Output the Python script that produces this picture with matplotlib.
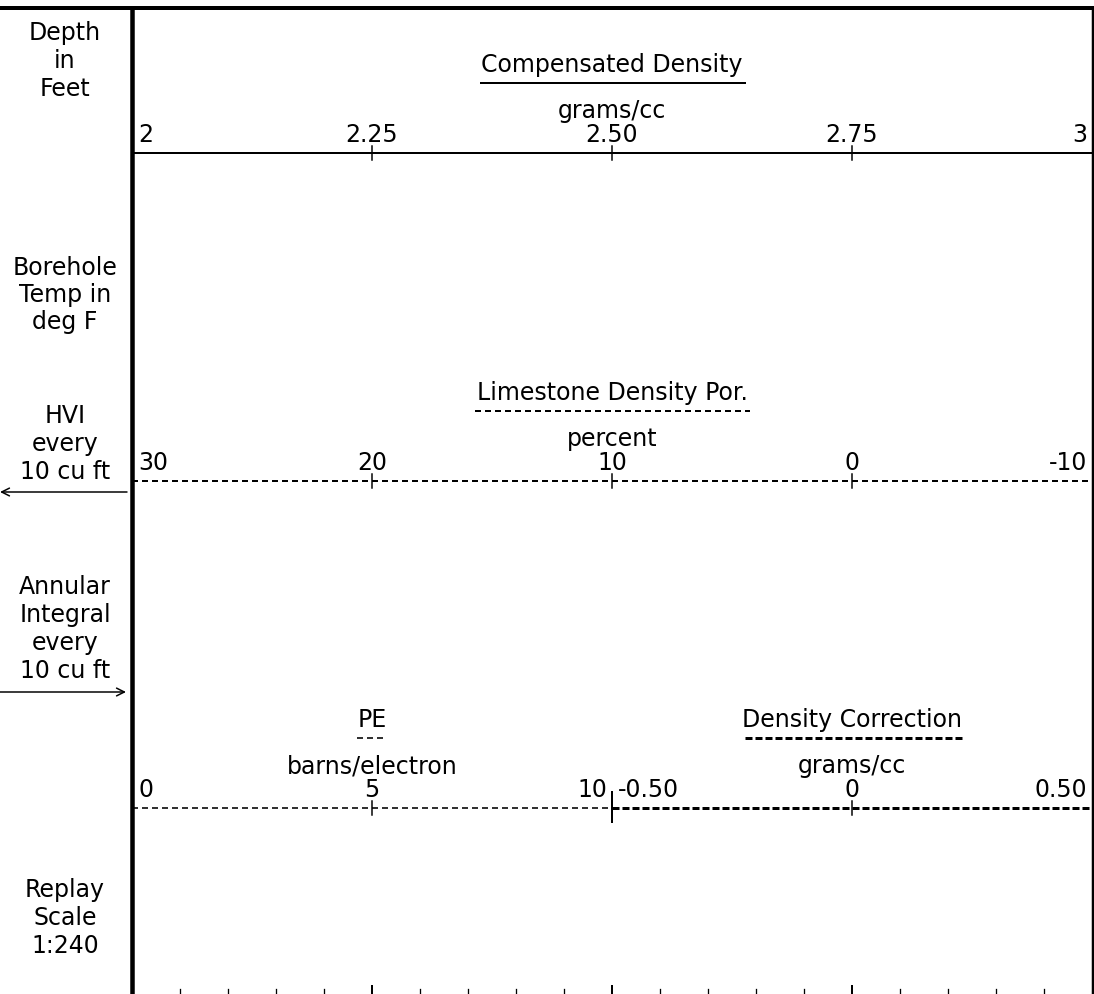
import matplotlib
matplotlib.use("Agg")
import matplotlib.pyplot as plt

plt.rcParams['font.family'] = ['DejaVu Sans']
plt.rcParams['lines.scale_dashes'] = False

W, H = 1094, 994
PX = 0.72  # points per pixel at dpi 100
FS = 17

# ---- data ----
left_labels = [
    ["Depth", "in", "Feet"],
    ["Borehole", "Temp in", "deg F"],
    ["HVI", "every", "10 cu ft"],
    ["Annular", "Integral", "every", "10 cu ft"],
    ["Replay", "Scale", "1:240"],
]
comp_title, comp_unit = "Compensated Density", "grams/cc"
comp_range = (2.0, 3.0)
comp_ticks = [2.25, 2.50, 2.75]
comp_labels = ["2", "2.25", "2.50", "2.75", "3"]
comp_label_vals = [2.0, 2.25, 2.50, 2.75, 3.0]

lime_title, lime_unit = "Limestone Density Por.", "percent"
lime_range = (30, -10)
lime_ticks = [20, 10, 0]
lime_labels = ["30", "20", "10", "0", "-10"]
lime_label_vals = [30, 20, 10, 0, -10]

pe_title, pe_unit = "PE", "barns/electron"
pe_range = (0, 10)
pe_ticks = [5]
pe_labels = ["0", "5", "10"]
pe_label_vals = [0, 5, 10]

dc_title, dc_unit = "Density Correction", "grams/cc"
dc_range = (-0.5, 0.5)
dc_ticks = [0.0]
dc_labels = ["-0.50", "0", "0.50"]
dc_label_vals = [-0.5, 0.0, 0.5]

grid_minor = [2.05, 2.10, 2.15, 2.20, 2.30, 2.35, 2.40, 2.45, 2.55, 2.60,
              2.65, 2.70, 2.80, 2.85, 2.90, 2.95]
grid_major = [2.25, 2.50, 2.75]

# ---- figure ----
fig = plt.figure(figsize=(W / 100, H / 100), dpi=100)
ax0 = fig.add_axes([0, 0, 1, 1])
ax0.set_xlim(0, W)
ax0.set_ylim(H, 0)
ax0.axis('off')

TX0, TX1 = 132, 1092  # track extent (pixels)

# borders
ax0.plot([0, W], [8, 8], color='black', lw=4 * PX, solid_capstyle='butt')
ax0.plot([TX0, TX0], [6, H], color='black', lw=4.5 * PX, solid_capstyle='butt')
ax0.plot([1092.5, 1092.5], [6, H], color='black', lw=2.5 * PX, solid_capstyle='butt')

# left column text
left_y = [[33, 61, 89], [268, 295, 322], [416, 444, 472], [587, 615, 643, 671], [890, 918, 946]]
for lines, ys in zip(left_labels, left_y):
    for t, y in zip(lines, ys):
        ax0.text(65, y, t, ha='center', va='center', fontsize=FS)

# arrows
ax0.annotate("", xy=(0, 492), xytext=(127, 492),
             arrowprops=dict(arrowstyle='->', lw=1.5 * PX, color='black', shrinkA=0, shrinkB=0,
                             mutation_scale=14))
ax0.annotate("", xy=(126, 692), xytext=(0, 692),
             arrowprops=dict(arrowstyle='->', lw=1.5 * PX, color='black', shrinkA=0, shrinkB=0,
                             mutation_scale=14))


def scale_axes(x0, x1, rng):
    ax = fig.add_axes([x0 / W, 0, (x1 - x0) / W, 1])
    ax.set_xlim(*rng)
    ax.set_ylim(H, 0)
    ax.axis('off')
    ax.patch.set_alpha(0)
    return ax


OFFS = {'left': (6, 0), 'right': (-5, 0), 'center': (0, 0)}


def draw_scale(ax, rng, title, unit, ticks, labels, label_vals, yline, ls, lw, center, aligns):
    ax.plot(list(rng), [yline, yline], color='black', lw=lw, ls=ls, clip_on=False,
            solid_capstyle='butt')
    for v in ticks:
        ax.plot([v, v], [yline - 7, yline + 7], color='black', lw=1.5 * PX, clip_on=False)
    ax.text(center, yline - 88, title, ha='center', va='center', fontsize=FS)
    ax.text(center, yline - 42, unit, ha='center', va='center', fontsize=FS)
    for v, t, a in zip(label_vals, labels, aligns):
        ax.annotate(t, xy=(v, yline - 18), xytext=OFFS[a],
                    textcoords='offset pixels', ha=a, va='center', fontsize=FS)


# Compensated density
axc = scale_axes(TX0, TX1, comp_range)
draw_scale(axc, comp_range, comp_title, comp_unit, comp_ticks, comp_labels, comp_label_vals,
           153, '-', 2 * PX, 2.5, ['left', 'center', 'center', 'center', 'right'])
ax0.plot([481, 745], [83, 83], color='black', lw=2 * PX)

# Limestone porosity
axl = scale_axes(TX0, TX1, lime_range)
draw_scale(axl, lime_range, lime_title, lime_unit, lime_ticks, lime_labels, lime_label_vals,
           481, (0, (6 * PX, 4 * PX)), 2 * PX, 10, ['left', 'center', 'center', 'center', 'right'])
ax0.plot([475, 750], [411, 411], color='black', lw=2 * PX, ls=(0, (6 * PX, 4 * PX)))

# PE
axp = scale_axes(TX0, 612, pe_range)
draw_scale(axp, pe_range, pe_title, pe_unit, pe_ticks, pe_labels, pe_label_vals,
           808, (0, (6 * PX, 4 * PX)), 1.6 * PX, 5, ['left', 'center', 'right'])
ax0.plot([357, 387], [738, 738], color='black', lw=1.6 * PX, ls=(0, (6 * PX, 4 * PX)))

# Density correction
axd = scale_axes(612, TX1, dc_range)
draw_scale(axd, dc_range, dc_title, dc_unit, dc_ticks, dc_labels, dc_label_vals,
           808, (0, (7 * PX, 3 * PX)), 3 * PX, 0.0, ['left', 'center', 'right'])
ax0.plot([745, 962], [738, 738], color='black', lw=3 * PX, ls=(0, (7 * PX, 3 * PX)))

# long center tick between PE and density correction
ax0.plot([612, 612], [792, 822], color='black', lw=2 * PX)

# bottom depth grid ticks
axg = scale_axes(TX0, TX1, comp_range)
for v in grid_minor:
    axg.plot([v, v], [989, H], color='black', lw=1.3 * PX, clip_on=False)
for v in grid_major:
    axg.plot([v, v], [986, H], color='black', lw=2 * PX, clip_on=False)

fig.savefig("out.png", dpi=100)
